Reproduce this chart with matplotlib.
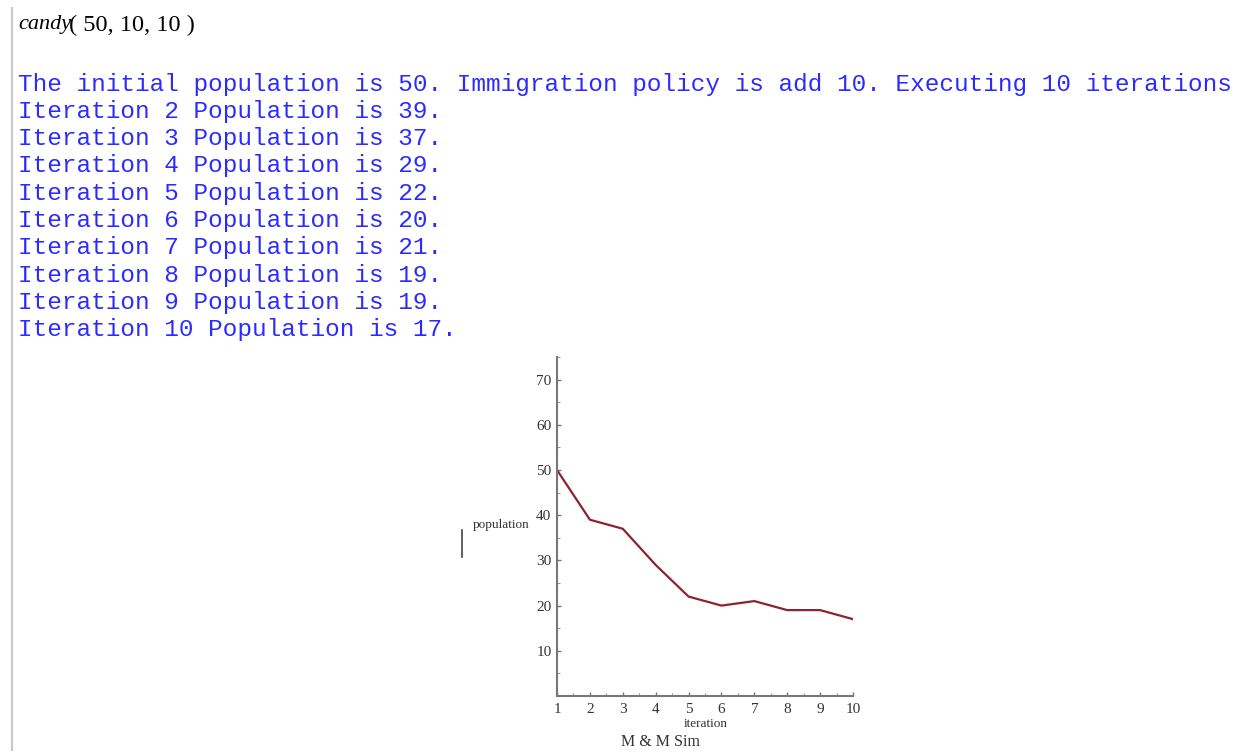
import matplotlib
matplotlib.use("Agg")
import matplotlib.pyplot as plt
from matplotlib.ticker import MultipleLocator

iterations = [1, 2, 3, 4, 5, 6, 7, 8, 9, 10]
population = [50, 39, 37, 29, 22, 20, 21, 19, 19, 17]
y_ticks = [10, 20, 30, 40, 50, 60, 70]

header = "The initial population is 50. Immigration policy is add 10. Executing 10 iterations"
lines = [header] + [f"Iteration {i} Population is {p}." for i, p in zip(iterations[1:], population[1:])]

fig = plt.figure(figsize=(12.43, 7.53), dpi=100)
W, H = 1243, 753

def fx(px):
    return px / W

def fy(py):
    return 1 - py / H

# worksheet bracket
fig.add_artist(plt.Line2D([fx(12), fx(12)], [fy(8), fy(750)], color="#c8c8c8", lw=1.5))

fig.text(fx(18), fy(25), "candy", family="Liberation Serif", style="italic", fontsize=16, va="center", ha="left")
fig.text(fx(69), fy(25), "( 50, 10, 10 )", family="Liberation Serif", fontsize=17.6, va="center", ha="left")

blue = "#2b2bff"
for k, s in enumerate(lines):
    fig.text(fx(18), fy(84 + k * 27.3), s, family="Liberation Mono", fontsize=17.56,
             color=blue, va="center", ha="left")

ax = fig.add_axes([fx(557), fy(696), (853 - 557) / W, (696 - 357) / H])
ax.plot(iterations, population, color="#8b2331", lw=1.6)
ax.set_xlim(1, 10)
ax.set_ylim(0, 75)
ax.set_xticks(iterations)
ax.set_yticks(y_ticks)
ax.xaxis.set_minor_locator(MultipleLocator(0.5))
ax.yaxis.set_minor_locator(MultipleLocator(5))
for sp in ["top", "right"]:
    ax.spines[sp].set_visible(False)
for sp in ["left", "bottom"]:
    ax.spines[sp].set_color("#777777")
    ax.spines[sp].set_linewidth(1.5)
ax.tick_params(axis="both", which="major", length=3, width=1, color="#777777",
               labelsize=11, direction="in", pad=4)
ax.tick_params(axis="x", which="major", pad=5)
ax.tick_params(axis="both", which="minor", length=2, width=0.8, color="#999999", direction="in")
for lab in ax.get_xticklabels() + ax.get_yticklabels():
    lab.set_family("Liberation Serif")
    lab.set_color("#333333")
ax.patch.set_alpha(0)

fig.text(fx(501), fy(525), "population", family="Liberation Serif", fontsize=9.5,
         color="#333333", ha="center", va="center")
fig.add_artist(plt.Line2D([fx(462), fx(462)], [fy(530), fy(557)], color="#444444", lw=1.2))
fig.text(fx(706), fy(724), "iteration", family="Liberation Serif", fontsize=9.5,
         color="#333333", ha="center", va="center")
fig.text(fx(660), fy(742), "M & M Sim", family="Liberation Serif", fontsize=11.5,
         color="#333333", ha="center", va="center")

fig.savefig("out.png", dpi=100, facecolor="white")
